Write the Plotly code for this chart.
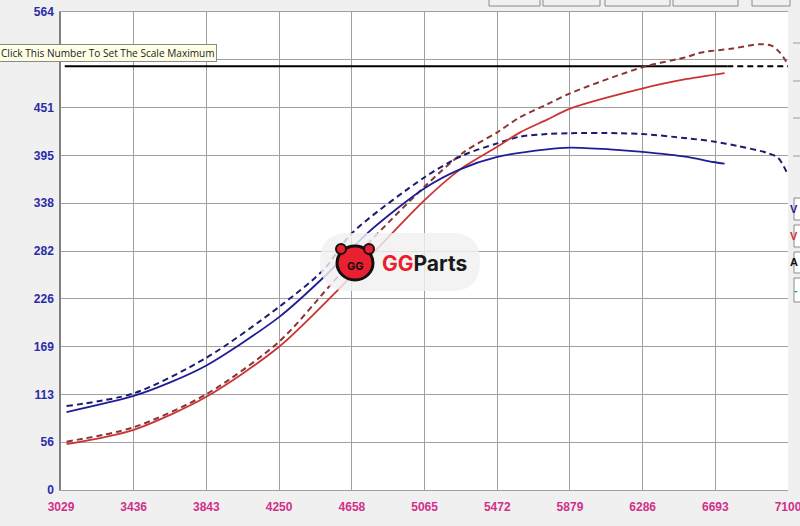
import plotly.graph_objects as go

# ---- data ----
rpm_blue_solid = [3060, 3436, 3640, 3843, 4250, 4500, 4750, 5065, 5260, 5472, 5750, 5879, 6100, 6286, 6535, 6680, 6745]
val_blue_solid = [92, 111, 127, 147, 204, 251, 304, 356, 378, 393, 402, 404, 402, 399, 393, 387, 385]

rpm_blue_dash = [3060, 3436, 3843, 4250, 4500, 4658, 5065, 5280, 5472, 5600, 5750, 5879, 6150, 6286, 6535, 6690, 6815, 6980, 7044, 7095]
val_blue_dash = [99, 114, 156, 216, 260, 303, 369, 395, 409, 417, 420, 421, 421, 420, 415, 411, 406, 398, 392, 374]

rpm_red_solid = [3060, 3436, 3843, 4250, 4575, 4658, 5065, 5263, 5472, 5600, 5751, 5879, 6288, 6535, 6745]
val_red_solid = [54, 71, 110, 169, 235, 253, 342, 378, 405, 422, 437, 450, 474, 485, 492]

rpm_red_dash = [3060, 3436, 3843, 4250, 4530, 4658, 5065, 5280, 5472, 5600, 5751, 5879, 6288, 6535, 6607, 6792, 6943, 7011, 7055, 7095]
val_red_dash = [57, 74, 113, 175, 240, 271, 358, 398, 422, 440, 455, 468, 499, 511, 516, 521, 526, 524, 516, 504]

rpm_ref_solid = [3050, 6760]
rpm_ref_dash = [6760, 7100]
ref_value = 500

x_ticks = [3029, 3436, 3843, 4250, 4658, 5065, 5472, 5879, 6286, 6693, 7100]
y_tick_vals = [0, 56.4, 112.8, 169.2, 225.6, 282.0, 338.4, 394.8, 451.2, 507.6, 564]
y_tick_text = ["0", "56", "113", "169", "226", "282", "338", "395", "451", "", "564"]

# ---- figure ----
fig = go.Figure()

fig.add_trace(go.Scatter(x=rpm_ref_solid, y=[ref_value] * 2, mode="lines",
                         line=dict(color="#000000", width=2), showlegend=False, hoverinfo="skip"))
fig.add_trace(go.Scatter(x=rpm_ref_dash, y=[ref_value] * 2, mode="lines",
                         line=dict(color="#000000", width=2, dash="6px,4px"), showlegend=False, hoverinfo="skip"))

fig.add_trace(go.Scatter(x=rpm_red_dash, y=val_red_dash, mode="lines",
                         line=dict(color="#8a3535", width=2, dash="6px,4px", shape="spline", smoothing=0.8),
                         showlegend=False))
fig.add_trace(go.Scatter(x=rpm_blue_dash, y=val_blue_dash, mode="lines",
                         line=dict(color="#1c1c6e", width=2, dash="6px,4px", shape="spline", smoothing=0.8),
                         showlegend=False))
fig.add_trace(go.Scatter(x=rpm_red_solid, y=val_red_solid, mode="lines",
                         line=dict(color="#cc3333", width=1.8, shape="spline", smoothing=0.8),
                         showlegend=False))
fig.add_trace(go.Scatter(x=rpm_blue_solid, y=val_blue_solid, mode="lines",
                         line=dict(color="#1e1e96", width=1.8, shape="spline", smoothing=0.8),
                         showlegend=False))

W, H = 800, 526
L, R, T, B = 61, 12, 12, 36
PW, PH = W - L - R, H - T - B


def px(xp):
    return (xp - L) / PW


def py(yp):
    return (H - B - yp) / PH


shapes = []
# top buttons
for x0, x1 in [(489, 540), (543, 600), (605, 670), (673, 738), (752, 790)]:
    shapes.append(dict(type="rect", xref="paper", yref="paper", x0=px(x0), x1=px(x1), y0=py(6), y1=py(-4),
                       fillcolor="#f0f0f0", line=dict(color="#8a8a8a", width=1), layer="above"))
# right side boxes
for y0, y1 in [(198, 220), (225, 247), (252, 273), (278, 302)]:
    shapes.append(dict(type="rect", xref="paper", yref="paper", x0=px(794), x1=px(806), y0=py(y1), y1=py(y0),
                       fillcolor="#ffffff", line=dict(color="#8a8a8a", width=1), layer="above"))
# right small tick marks
for yy in [43, 81, 118, 156]:
    shapes.append(dict(type="line", xref="paper", yref="paper", x0=px(793), x1=px(800), y0=py(yy), y1=py(yy),
                       line=dict(color="#9a9a9a", width=1), layer="above"))

# watermark pill in paper coordinates
pts = [("M", 348, 233), ("L", 452, 233), ("Q", 480, 233, 480, 262), ("Q", 480, 291, 452, 291),
       ("L", 348, 291), ("Q", 320, 291, 320, 262), ("Q", 320, 233, 348, 233)]
path = ""
for p in pts:
    s = p[0]
    coords = p[1:]
    for i in range(0, len(coords), 2):
        s += f" {px(coords[i]):.5f},{py(coords[i+1]):.5f}"
    path += s + " "
path += "Z"
shapes.append(dict(type="path", xref="paper", yref="paper", path=path,
                   fillcolor="rgba(240,240,240,0.82)", line=dict(width=0), layer="above"))
# pig icon
shapes.append(dict(type="circle", xref="paper", yref="paper", x0=px(337), x1=px(373), y0=py(280), y1=py(246),
                   fillcolor="#e8202f", line=dict(color="#111111", width=3), layer="above"))
shapes.append(dict(type="circle", xref="paper", yref="paper", x0=px(336), x1=px(346), y0=py(254), y1=py(244),
                   fillcolor="#e8202f", line=dict(color="#111111", width=2), layer="above"))
shapes.append(dict(type="circle", xref="paper", yref="paper", x0=px(364), x1=px(374), y0=py(254), y1=py(244),
                   fillcolor="#e8202f", line=dict(color="#111111", width=2), layer="above"))

annotations = [
    dict(text="Click This Number To Set The Scale Maximum", xref="paper", yref="paper",
         x=px(-1), y=py(53), xanchor="left", yanchor="middle", showarrow=False,
         font=dict(family="Open Sans, DejaVu Sans", size=10.1, color="#222222"),
         bgcolor="#ffffe6", bordercolor="#8a8a8a", borderwidth=1, borderpad=1),
    dict(text="<b>GG</b>", xref="paper", yref="paper", x=px(355), y=py(266), showarrow=False,
         font=dict(family="Inter, DejaVu Sans", size=11, color="#111111")),
    dict(text="<b><span style='color:#e8202f'>GG</span>Parts</b>", xref="paper", yref="paper",
         x=px(380), y=py(263), xanchor="left", yanchor="middle", showarrow=False,
         font=dict(family="Inter, DejaVu Sans", size=21, color="#1a1a1a")),
    dict(text="<b>V</b>", xref="paper", yref="paper", x=px(800), y=py(209), xanchor="right", showarrow=False,
         font=dict(family="Liberation Sans", size=11, color="#1e1e96")),
    dict(text="<b>V</b>", xref="paper", yref="paper", x=px(800), y=py(236), xanchor="right", showarrow=False,
         font=dict(family="Liberation Sans", size=11, color="#cc3333")),
    dict(text="<b>A</b>", xref="paper", yref="paper", x=px(800), y=py(262), xanchor="right", showarrow=False,
         font=dict(family="Liberation Sans", size=11, color="#111111")),
    dict(text="<b>-</b>", xref="paper", yref="paper", x=px(800), y=py(290), xanchor="right", showarrow=False,
         font=dict(family="Liberation Sans", size=11, color="#22aa22")),
]

fig.update_layout(
    width=W, height=H,
    margin=dict(l=L, r=R, t=T, b=B, pad=0, autoexpand=False),
    paper_bgcolor="#f0f0f0",
    plot_bgcolor="#ffffff",
    showlegend=False,
    shapes=shapes,
    annotations=annotations,
    xaxis=dict(range=[3029, 7100], tickvals=x_ticks, ticktext=[str(v) for v in x_ticks],
               showgrid=True, gridcolor="#a0a0a0", gridwidth=1, zeroline=False,
               showline=True, linecolor="#a0a0a0", mirror=True, automargin=False,
               ticks="", ticklabelstandoff=6, ticklabeloverflow="allow",
               tickfont=dict(family="Liberation Sans", size=12, color="#d0308a", weight="bold")),
    yaxis=dict(range=[0, 564], tickvals=y_tick_vals, ticktext=y_tick_text,
               showgrid=True, gridcolor="#a0a0a0", gridwidth=1, zeroline=False,
               showline=True, linecolor="#808080", linewidth=1.5, mirror=False, automargin=False,
               ticks="", ticklabelstandoff=3, ticklabeloverflow="allow",
               tickfont=dict(family="Liberation Sans", size=12, color="#2b2ba8", weight="bold")),
)

fig.write_html("out.html",
               config={"displayModeBar": False},
               post_script="document.body.style.margin='0';document.body.style.overflow='hidden';")
